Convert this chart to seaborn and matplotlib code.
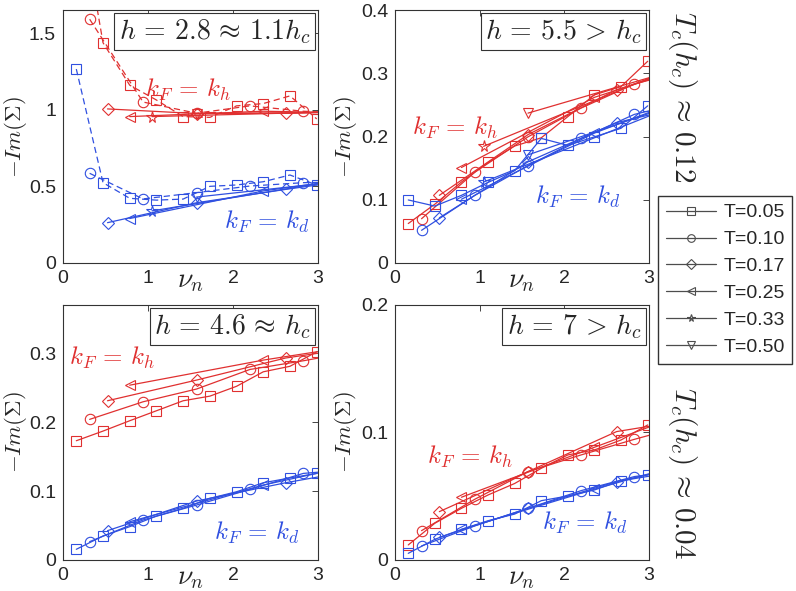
import matplotlib
matplotlib.use("Agg")
import matplotlib.pyplot as plt
from matplotlib.lines import Line2D
import seaborn as sns
import pandas as pd

sns.set_style("white")
plt.rcParams['font.family'] = ['Liberation Sans', 'DejaVu Sans']
plt.rcParams['mathtext.fontset'] = 'cm'
plt.rcParams.update({'xtick.labelsize': 14, 'ytick.labelsize': 14})

RED = '#e03030'
BLUE = '#3050e0'

temps = ['T=0.05', 'T=0.10', 'T=0.17', 'T=0.25', 'T=0.33', 'T=0.50']
markers = {'T=0.05': 's', 'T=0.10': 'o', 'T=0.17': 'D', 'T=0.25': '<', 'T=0.33': '*', 'T=0.50': 'v'}
msizes = {'T=0.05': 7, 'T=0.10': 7.5, 'T=0.17': 6, 'T=0.25': 7.5, 'T=0.33': 8.5, 'T=0.50': 7.5}

# Matsubara frequencies for each temperature (last points lie past the axis edge)
nu = {
  'T=0.05': [0.157, 0.471, 0.785, 1.100, 1.414, 1.728, 2.042, 2.356, 2.670, 2.985],
  'T=0.10': [0.314, 0.942, 1.571, 2.199, 2.827, 3.456],
  'T=0.17': [0.524, 1.571, 2.618, 3.665],
  'T=0.25': [0.785, 2.356, 3.927],
  'T=0.33': [1.047, 3.142],
  'T=0.50': [1.571, 4.712],
}

# h = 2.8
h28_red = {
  'T=0.05': [2.45, 1.437, 1.16, 1.063, 0.955, 0.95, 1.025, 1.04, 1.09, 0.94],
  'T=0.10': [1.59, 1.05, 0.977, 1.025, 0.99, 0.975],
  'T=0.17': [1.005, 0.975, 0.976, 0.99],
  'T=0.25': [0.955, 0.99, 0.975],
  'T=0.33': [0.955, 0.985],
  'T=0.50': [0.975, 0.99],
}
h28_blue = {
  'T=0.05': [1.265, 0.524, 0.422, 0.41, 0.417, 0.50, 0.509, 0.53, 0.574, 0.509],
  'T=0.10': [0.585, 0.418, 0.459, 0.502, 0.524, 0.53],
  'T=0.17': [0.263, 0.393, 0.48, 0.56],
  'T=0.25': [0.29, 0.47, 0.59],
  'T=0.33': [0.34, 0.53],
  'T=0.50': [0.43, 0.62],
}
# h = 5.5
h55_red = {
  'T=0.05': [0.0624, 0.093, 0.128, 0.159, 0.185, 0.198, 0.2315, 0.266, 0.279, 0.319],
  'T=0.10': [0.070, 0.1435, 0.1995, 0.245, 0.283, 0.305],
  'T=0.17': [0.107, 0.203, 0.274, 0.32],
  'T=0.25': [0.151, 0.262, 0.33],
  'T=0.33': [0.1845, 0.30],
  'T=0.50': [0.237, 0.36],
}
h55_blue = {
  'T=0.05': [0.0997, 0.090, 0.107, 0.1275, 0.146, 0.197, 0.186, 0.1995, 0.213, 0.2485],
  'T=0.10': [0.0517, 0.107, 0.154, 0.197, 0.235, 0.255],
  'T=0.17': [0.0715, 0.16, 0.222, 0.255],
  'T=0.25': [0.1008, 0.2055, 0.285],
  'T=0.33': [0.128, 0.24],
  'T=0.50': [0.171, 0.315],
}
# h = 4.6
h46_red = {
  'T=0.05': [0.173, 0.187, 0.202, 0.2165, 0.231, 0.2377, 0.252, 0.273, 0.281, 0.302],
  'T=0.10': [0.204, 0.2295, 0.248, 0.2764, 0.289, 0.303],
  'T=0.17': [0.231, 0.261, 0.293, 0.312],
  'T=0.25': [0.2536, 0.29, 0.32],
}
h46_blue = {
  'T=0.05': [0.0155, 0.0348, 0.0483, 0.0638, 0.0749, 0.0894, 0.099, 0.112, 0.119, 0.1256],
  'T=0.10': [0.0266, 0.058, 0.0797, 0.1024, 0.1256, 0.132],
  'T=0.17': [0.0425, 0.0855, 0.112, 0.135],
  'T=0.25': [0.0555, 0.1087, 0.151],
}
# h = 7
h7_red = {
  'T=0.05': [0.0118, 0.0288, 0.0405, 0.051, 0.060, 0.0719, 0.0824, 0.0863, 0.0941, 0.1059],
  'T=0.10': [0.023, 0.0476, 0.0693, 0.0824, 0.0946, 0.106],
  'T=0.17': [0.0379, 0.0693, 0.1007, 0.112],
  'T=0.25': [0.0492, 0.0884, 0.127],
}
h7_blue = {
  'T=0.05': [0.0052, 0.0162, 0.024, 0.0308, 0.036, 0.0465, 0.0502, 0.0549, 0.0622, 0.0667],
  'T=0.10': [0.011, 0.0267, 0.0405, 0.0544, 0.0654, 0.071],
  'T=0.17': [0.0178, 0.0405, 0.0615, 0.073],
  'T=0.25': [0.024, 0.0555, 0.085],
}

panels = [
  # rect, data red, data blue, ylim, yticks, title, kh pos, kd pos, dashed temps, ylabel x
  ([0.0791, 0.555, 0.3204, 0.428], h28_red, h28_blue, 1.65, [0, 0.5, 1, 1.5],
   r'$h\,=\,2.8\,\approx\,1.1h_c$', (1.47, 1.13), (2.4, 0.27), ['T=0.05', 'T=0.10'], -0.135),
  ([0.4962, 0.555, 0.3191, 0.428], h55_red, h55_blue, 0.4, [0, 0.1, 0.2, 0.3, 0.4],
   r'$h\,=\,5.5\,>\,h_c$', (0.71, 0.213), (2.16, 0.104), [], -0.14),
  ([0.0791, 0.0525, 0.3204, 0.4315], h46_red, h46_blue, 0.37, [0, 0.1, 0.2, 0.3],
   r'$h\,=\,4.6\,\approx\,h_c$', (0.58, 0.293), (2.28, 0.039), [], -0.135),
  ([0.4962, 0.0525, 0.3191, 0.4315], h7_red, h7_blue, 0.2, [0, 0.1, 0.2],
   r'$h\,=\,7\,>\,h_c$', (0.885, 0.081), (2.24, 0.029), [], -0.14),
]

fig = plt.figure(figsize=(7.96, 5.91), dpi=100)

for rect, dred, dblue, ytop, yticks, title, kh, kd, dashed, ylx in panels:
  ax = fig.add_axes(rect)
  for data, col in [(dred, RED), (dblue, BLUE)]:
    for t, vals in data.items():
      df = pd.DataFrame({'nu': nu[t], 'val': vals})
      extra = {'dashes': (5, 3)} if t in dashed else {}
      sns.lineplot(data=df, x='nu', y='val', ax=ax, color=col, estimator=None,
                   marker=markers[t], markersize=msizes[t], mfc='none', mec=col, mew=0.8,
                   linewidth=0.9, legend=False, **extra)
  ax.set_xlim(0, 3)
  ax.set_ylim(0, ytop)
  ax.set_xticks([0, 1, 2, 3])
  ax.set_xticklabels(['0', '1', '2', '3'])
  ax.set_yticks(yticks)
  ax.set_yticklabels(['%g' % v for v in yticks])
  ax.tick_params(direction='in', top=True, right=True, length=4, width=0.6, pad=5)
  for s in ax.spines.values():
    s.set_linewidth(0.8)
    s.set_color('#333333')
  ax.set_xlabel(r'$\nu_n$', fontsize=20)
  ax.xaxis.set_label_coords(0.5, -0.02)
  ax.set_ylabel(r'$-Im(\Sigma)$', fontsize=16.5)
  ax.yaxis.set_label_coords(ylx, 0.5)
  ax.text(0.972, 0.972, title, transform=ax.transAxes, ha='right', va='top', fontsize=20,
          bbox=dict(boxstyle='square,pad=0.16', fc='white', ec='#333333', lw=0.8))
  ax.text(kh[0], kh[1], r'$k_F\,=\,k_h$', color=RED, fontsize=18, ha='center', va='center')
  ax.text(kd[0], kd[1], r'$k_F\,=\,k_d$', color=BLUE, fontsize=18, ha='center', va='center')

handles = [Line2D([0], [0], color='0.3', lw=0.9, marker=markers[t], markersize=5.5,
                  mfc='none', mec='0.3', mew=0.8) for t in temps]
fig.legend(handles, temps, loc='upper left', bbox_to_anchor=(658 / 796, 1 - 196 / 591),
           fontsize=14, frameon=True, fancybox=False, edgecolor='#333333', framealpha=1,
           handlelength=2.6, handletextpad=0.35, labelspacing=0.48, borderpad=0.4, borderaxespad=0)

fig.text(683 / 796, 1 - 97 / 591, r'$T_c(h_c)\,\approx\,0.12$', rotation=270,
         ha='center', va='center', fontsize=21)
fig.text(683 / 796, 1 - 473 / 591, r'$T_c(h_c)\,\approx\,0.04$', rotation=270,
         ha='center', va='center', fontsize=21)

plt.savefig('out.png', dpi=100)
plt.close()
